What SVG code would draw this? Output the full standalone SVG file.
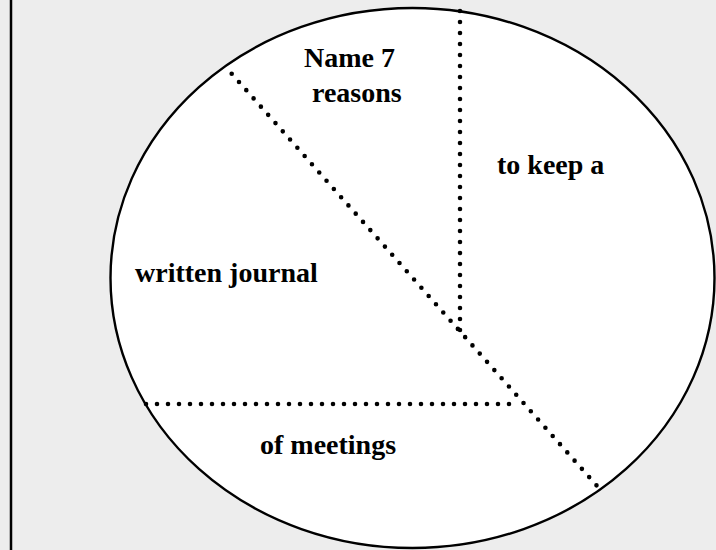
<svg xmlns="http://www.w3.org/2000/svg" width="716" height="550" viewBox="0 0 716 550">
<style>
.dot{fill:none;stroke:#000;stroke-width:4.6;stroke-linecap:round;stroke-dasharray:0 11}
.t{font-family:"Liberation Serif","Times New Roman",serif;font-weight:bold;font-size:28px;fill:#000}
</style>
<rect x="0" y="0" width="716" height="550" fill="#ededed"/>
<line x1="11" y1="0" x2="11" y2="550" stroke="#000" stroke-width="2.5"/>
<g id="circle">
<ellipse cx="412.5" cy="278" rx="302" ry="270" fill="#fff" stroke="#000" stroke-width="2.4"/>
</g>
<g id="connectors">
<line class="dot" x1="460" y1="11" x2="460" y2="333"/>
<line class="dot" x1="231.7" y1="73.7" x2="603" y2="492.7"/>
<line class="dot" x1="146" y1="404" x2="518" y2="404"/>
</g>
<g id="label1"><text class="t" x="304" y="67">Name 7</text><text class="t" x="312" y="102">reasons</text></g>
<g id="label2"><text class="t" x="497" y="174">to keep a</text></g>
<g id="label3"><text class="t" x="135" y="282">written journal</text></g>
<g id="label4"><text class="t" x="260" y="454">of meetings</text></g>
</svg>
